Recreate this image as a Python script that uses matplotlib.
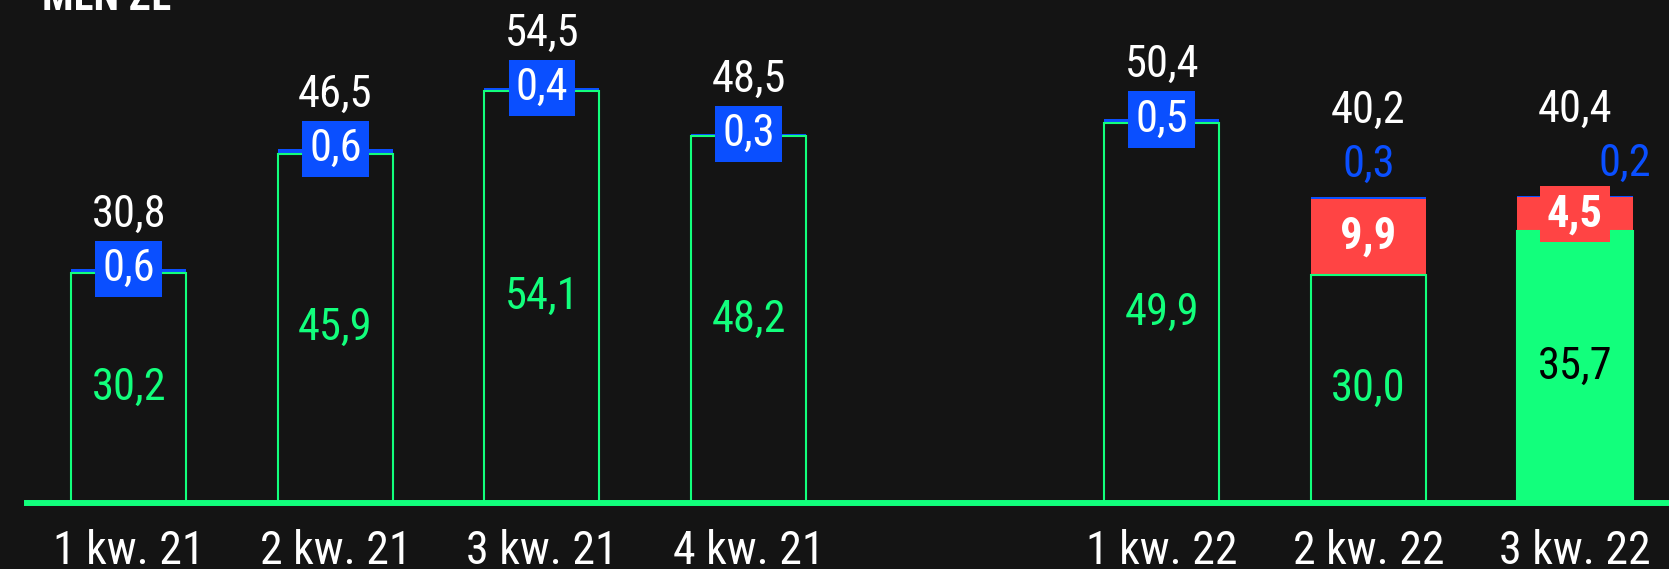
import matplotlib.pyplot as plt
from matplotlib import font_manager

""" Pick a condensed family if there is one """
installed = {f.name for f in font_manager.fontManager.ttflist}
font = 'Roboto'
for cand in ['Roboto Condensed', 'Roboto']:
    if cand in installed:
        font = cand
        break
plt.rcParams['font.family'] = [font, 'DejaVu Sans']

""" Data """
quarters = ['1 kw. 21', '2 kw. 21', '3 kw. 21', '4 kw. 21', '1 kw. 22', '2 kw. 22', '3 kw. 22']
positions = [0, 1, 2, 3, 5, 6, 7]
green_vals = [30.2, 45.9, 54.1, 48.2, 49.9, 30.0, 35.7]
red_vals = [0, 0, 0, 0, 0, 9.9, 4.5]
blue_vals = [0.6, 0.6, 0.4, 0.3, 0.5, 0.3, 0.2]
totals = [30.8, 46.5, 54.5, 48.5, 50.4, 40.2, 40.4]
filled = [False, False, False, False, False, False, True]

BG = '#141414'
GREEN = '#12ff7c'
RED = '#ff4444'
BLUE = '#0a4fff'


def fmt(v):
    return f'{v:.1f}'.replace('.', ',')


fig = plt.figure(figsize=(16.69, 5.69), dpi=100, facecolor=BG)
ax = fig.add_axes([0, 66 / 569, 1, 503 / 569])
ax.set_facecolor(BG)
ax.set_xlim(-0.623, 7.455)
ax.set_ylim(0, 66.1)
for s in ax.spines.values():
    s.set_visible(False)
ax.set_yticks([])

width = 0.557
bottoms_red = green_vals
bottoms_blue = [g + r for g, r in zip(green_vals, red_vals)]

ax.bar(positions, green_vals, width=width,
       color=[GREEN if f else BG for f in filled],
       edgecolor=GREEN, linewidth=1.5, zorder=3)
ax.bar(positions, red_vals, bottom=bottoms_red, width=width, color=RED, linewidth=0, zorder=2)
ax.bar(positions, blue_vals, bottom=bottoms_blue, width=width, color=BLUE, linewidth=0, zorder=2)

# baseline, not clipped so its full width shows
ax.axhline(0, xmin=27 / 1669, xmax=1, color=GREEN, lw=4.3, zorder=5, clip_on=False)

""" Labels """
lab_size = 32
for i, x in enumerate(positions):
    g, r, b, t = green_vals[i], red_vals[i], blue_vals[i], totals[i]
    top = g + r + b
    ax.text(x, g / 2, fmt(g), ha='center', va='center', fontsize=lab_size,
            color='black' if filled[i] else GREEN, zorder=6)
    if r > 0:
        ax.text(x, g + r / 2, fmt(r), ha='center', va='center', fontsize=lab_size,
                color='white', fontweight='bold', zorder=6,
                bbox=dict(boxstyle='square,pad=0.16', fc=RED, ec='none'))
        dx = 36 if i == len(positions) - 1 else 0
        ax.annotate(fmt(b), (x, top), xytext=(dx, 23), textcoords='offset points',
                    ha='center', va='center', fontsize=lab_size, color=BLUE, zorder=6)
        ax.annotate(fmt(t), (x, top), xytext=(0, 62), textcoords='offset points',
                    ha='center', va='center', fontsize=lab_size, color='white', zorder=6)
    else:
        ax.text(x, top, fmt(b), ha='center', va='center', fontsize=lab_size,
                color='white', zorder=6,
                bbox=dict(boxstyle='square,pad=0.16', fc=BLUE, ec='none'))
        ax.annotate(fmt(t), (x, top), xytext=(0, 39), textcoords='offset points',
                    ha='center', va='center', fontsize=lab_size, color='white', zorder=6)

ax.set_xticks(positions)
ax.set_xticklabels(quarters, fontsize=33, color='white')
ax.tick_params(axis='x', length=0, pad=19)

fig.text(42 / 1669, 1 - 10 / 569, 'MLN ZŁ', fontsize=30, fontweight='bold',
         color='white', va='baseline', ha='left')

plt.savefig('out.png', dpi=100, facecolor=BG)
